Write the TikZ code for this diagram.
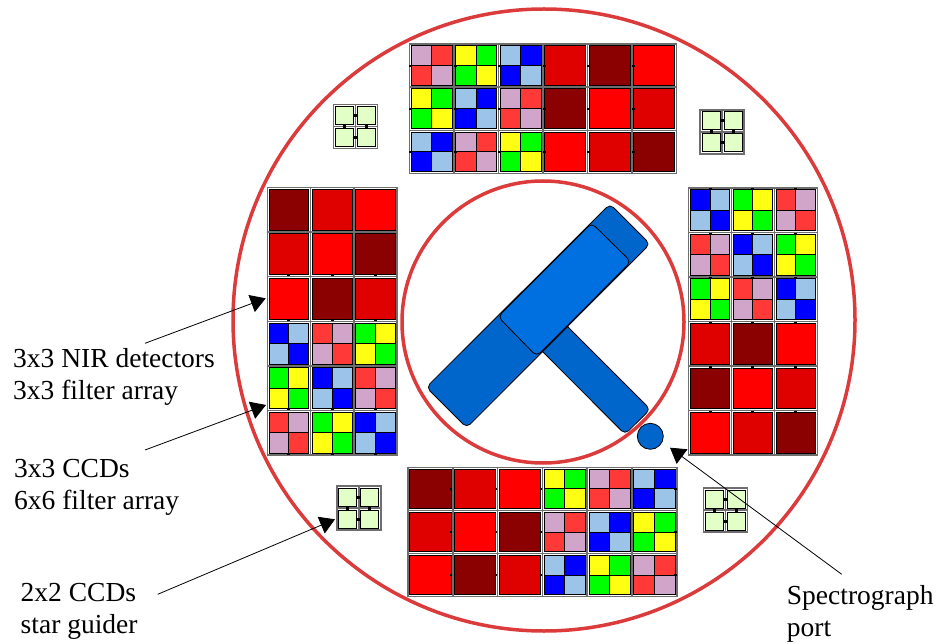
\documentclass[tikz,border=0pt]{standalone}
\usepackage{fontspec}
\setmainfont{Liberation Serif}
\usetikzlibrary{arrows.meta}
\definecolor{fD}{HTML}{8B0000}
\definecolor{fM}{HTML}{DF0000}
\definecolor{fR}{HTML}{FF0000}
\definecolor{pk}{HTML}{D0A5C9}
\definecolor{rd}{HTML}{FF3838}
\definecolor{ye}{HTML}{FFFF14}
\definecolor{gr}{HTML}{00FF00}
\definecolor{lb}{HTML}{9CC4E8}
\definecolor{bl}{HTML}{0000FF}
\definecolor{gd}{HTML}{E2FFC8}
\definecolor{ringred}{HTML}{DB3B3B}
\definecolor{barblue}{HTML}{0066CC}
\definecolor{topblue}{HTML}{0070E0}
\definecolor{framegray}{HTML}{6E6E6E}
\tikzset{
  ring/.style={draw=ringred,line width=3.5pt},
  cellframe/.style={draw=framegray,line width=1.5pt},
  celledge/.style={draw=black,line width=1pt},
  bluepart/.style={draw=black,line width=0.8pt,rounded corners=5pt},
  pointer/.style={draw=black,line width=0.8pt,-{Triangle[length=15pt,width=18pt]}},
  caption/.style={inner sep=0pt,anchor=north west,align=left,font=\fontsize{27.5}{32}\selectfont},
}
% x0 y0 cell-w cell-h columns tick-x tick-y  list of colour pairs
\newcommand\detblock[8]{%
  \foreach \ca/\cb [count=\k from 0] in {#8}{%
    \pgfmathtruncatemacro\cc{mod(\k,#5)}%
    \pgfmathtruncatemacro\rr{int(\k/#5)}%
    \pgfmathsetmacro\xa{#1+\cc*#3}%
    \pgfmathsetmacro\ya{#2+\rr*#4}%
    \pgfmathsetmacro\xb{\xa+#3}%
    \pgfmathsetmacro\yb{\ya+#4}%
    \pgfmathsetmacro\xm{(\xa+\xb)/2}%
    \pgfmathsetmacro\ym{(\ya+\yb)/2}%
    \path[fill=white,cellframe] (\xa,\ya) rectangle (\xb,\yb);
    \fill[\ca] (\xa+1.8,\ya+1.8) rectangle (\xm,\ym);
    \fill[\ca] (\xm,\ym) rectangle (\xb-1.8,\yb-1.8);
    \fill[\cb] (\xm,\ya+1.8) rectangle (\xb-1.8,\ym);
    \fill[\cb] (\xa+1.8,\ym) rectangle (\xm,\yb-1.8);
    \ifx\ca\cb\else
      \draw[celledge] (\xm,\ya+1.8) -- (\xm,\yb-1.8) (\xa+1.8,\ym) -- (\xb-1.8,\ym);
    \fi
    \path[celledge] (\xa+1.8,\ya+1.8) rectangle (\xb-1.8,\yb-1.8);
    \fill[black] (\xm+#6*#3/2-#6*1-1.5,\ym+#7*#4/2-#7*1-1) rectangle ++(3,2);
  }%
}
% guider: x0 y0
\newcommand\guider[2]{%
  \foreach \cc in {0,1}\foreach \rr in {0,1}{%
    \pgfmathsetmacro\xa{#1+\cc*22}%
    \pgfmathsetmacro\ya{#2+\rr*22}%
    \path[fill=white,cellframe] (\xa,\ya) rectangle ++(22,22);
    \path[fill=gd,celledge] (\xa+2,\ya+2) rectangle ++(18,18);
  }%
  \fill[black] (#1+20.5,#2+9.5) rectangle ++(3,3);
  \fill[black] (#1+20.5,#2+31.5) rectangle ++(3,3);
  \fill[black] (#1+9.5,#2+20.5) rectangle ++(3,3);
  \fill[black] (#1+31.5,#2+20.5) rectangle ++(3,3);
}
\begin{document}
\begin{tikzpicture}[x=1pt,y=-1pt]
\useasboundingbox (0,0) rectangle (937,644);
% rings
\draw[ring] (544,320) circle[radius=311];
\draw[ring] (543,322) circle[radius=141];
% detector mosaics
\detblock{409.5}{44}{44.5}{43.2}{6}{-1}{0}{pk/rd,ye/gr,lb/bl,fM/fM,fD/fD,fR/fR,
  ye/gr,lb/bl,pk/rd,fD/fD,fR/fR,fM/fM,
  lb/bl,pk/rd,ye/gr,fR/fR,fM/fM,fD/fD}
\detblock{688.6}{188.2}{42.9}{44.5}{3}{0}{-1}{bl/lb,gr/ye,rd/pk,
  rd/pk,bl/lb,gr/ye,
  gr/ye,rd/pk,bl/lb,
  fM/fM,fD/fD,fR/fR,
  fD/fD,fR/fR,fM/fM,
  fR/fR,fM/fM,fD/fD}
\detblock{267.3}{187.5}{43.3}{44.6}{3}{0}{1}{fD/fD,fM/fM,fR/fR,
  fM/fM,fR/fR,fD/fD,
  fR/fR,fD/fD,fM/fM,
  bl/lb,rd/pk,gr/ye,
  gr/ye,bl/lb,rd/pk,
  rd/pk,gr/ye,bl/lb}
\detblock{408}{467.4}{44.8}{43.1}{6}{1}{0}{fD/fD,fM/fM,fR/fR,ye/gr,pk/rd,lb/bl,
  fM/fM,fR/fR,fD/fD,pk/rd,lb/bl,ye/gr,
  fR/fR,fD/fD,fM/fM,lb/bl,ye/gr,pk/rd}
% star guiders
\guider{333.3}{104.6}
\guider{700.2}{110}
\guider{336.8}{486}
\guider{703.5}{488.2}
% instrument
\draw[bluepart,fill=barblue] (560,319) -- (650.3,409.3) -- (625,434.3) -- (535,344) -- cycle;
\draw[bluepart,fill=barblue] (610,204) -- (650,244) -- (466.7,427.7) -- (426.3,387.3) -- cycle;
\draw[bluepart,fill=topblue] (591.7,223) -- (631,261.7) -- (536.7,356.3) -- (498,316.7) -- cycle;
\node[circle,draw=black,line width=0.8pt,fill=barblue,minimum size=26pt,inner sep=0pt] (port) at (650.3,436.3) {};
% captions
\node[caption] (nir) at (13,348.5) {3x3 NIR detectors\\3x3 filter array};
\node[caption] (ccd) at (14,459.5) {3x3 CCDs\\6x6 filter array};
\node[caption] (gui) at (20.5,583) {2x2 CCDs\\star guider};
\node[caption] (spec) at (786.7,585) {Spectrograph\\port};
% pointers
\coordinate (nirfrom) at (145,343.3);
\coordinate (nirto) at (265.7,298.3);
\coordinate (ccdfrom) at (145,450);
\coordinate (ccdto) at (266,405);
\coordinate (guifrom) at (157.7,594.3);
\coordinate (guito) at (335,519.3);
\coordinate (specfrom) at (841.7,574.3);
\coordinate (specto) at (670,447.7);
\draw[pointer] (nirfrom) -- (nirto);
\draw[pointer] (ccdfrom) -- (ccdto);
\draw[pointer] (guifrom) -- (guito);
\draw[pointer] (specfrom) -- (specto);
\end{tikzpicture}
\end{document}
